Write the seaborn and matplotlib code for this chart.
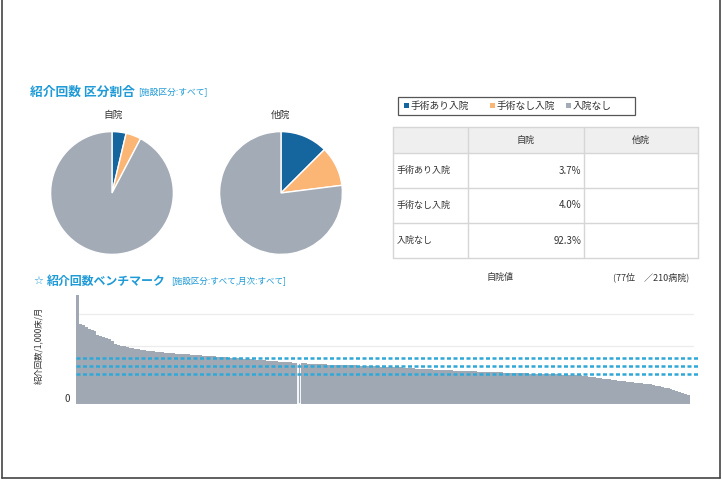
import matplotlib
matplotlib.use("Agg")
import matplotlib.pyplot as plt
from matplotlib.patches import Rectangle
from matplotlib.lines import Line2D
import seaborn as sns
import pandas as pd

sns.set_theme(style="white")
plt.rcParams['font.family'] = ['Noto Sans CJK JP', 'DejaVu Sans']

# ---------------- data ----------------
categories = ["手術あり入院", "手術なし入院", "入院なし"]
own_share = [3.7, 4.0, 92.3]
other_share = [12.5, 10.5, 77.0]
table_values = ["3.7%", "4.0%", "92.3%"]

bench_values = [
    109, 80, 79, 77, 75, 74, 73, 69, 68, 67, 66, 65, 63, 60, 59, 58, 58, 57, 56, 56,
    55, 55, 54, 54, 53, 53, 53, 52, 52, 52, 51,
    51, 51, 51, 50, 50, 50, 50, 50, 49, 49, 49,
    49, 48, 48, 48, 48, 48, 47, 47, 47, 47,
    46, 46, 46, 46, 46, 45, 45, 45, 45, 44, 44, 44,
    44, 43, 43, 43, 43, 42, 42, 42, 42, 42, 41, 41, 41,
    41, 41, 40, 40, 40, 40, 40, 40, 40, 39, 39, 39, 39, 39, 39, 39, 39, 39,
    39, 38, 38, 38, 38, 38, 38, 38, 38, 37, 37, 37, 37, 37, 37, 37, 37,
    36, 36, 36, 36, 35, 35, 35, 35, 35, 35, 34, 34, 34, 34, 34, 34, 34,
    33, 33, 33, 33, 33, 33, 33, 33, 32, 32, 32, 32, 32, 32, 32, 32, 32,
    31, 31, 31, 31, 31, 31, 31, 31, 31, 30, 30, 30, 30, 30, 30, 30, 30, 30, 30, 30,
    29, 29, 29, 29, 29, 29, 29,
    28, 28, 27, 27, 27, 26, 26, 25, 25, 25, 24,
    24, 23, 23, 23, 22, 22, 22, 21, 21, 21, 20, 20, 20, 19,
    18, 18, 17, 16, 16, 15, 14, 13,
    12, 11, 10, 9,
]
own_rank = 77
n_hosp = 210
mean_lines = [46, 38, 30]
grid_lines = [58, 90]

# ---------------- style ----------------
W, H = 722, 480
C_BLUE = "#15659f"
C_ORANGE = "#fbb574"
C_GRAY = "#a3abb7"
C_AREA = "#a0a8b4"
C_TITLE = "#1e9ad6"
C_DOT = "#2fa8d8"
TXT = "#333333"

fig = plt.figure(figsize=(W / 100, H / 100), dpi=100)
fig.patch.set_facecolor("white")


def px_axes(x0, y0, x1, y1, **kw):
    return fig.add_axes([x0 / W, 1 - y1 / H, (x1 - x0) / W, (y1 - y0) / H], **kw)


# background axes in pixel coordinates
bg = fig.add_axes([0, 0, 1, 1], zorder=0)
bg.set_xlim(0, W)
bg.set_ylim(H, 0)
bg.axis("off")

# frame lines
for xs, ys in [((1.5, 1.5), (0, 478)), ((720, 720), (0, 478)), ((1.5, 720), (478, 478))]:
    bg.add_line(Line2D(xs, ys, color="#444444", lw=1.2))

# titles
bg.text(30, 92, "紹介回数 区分割合", color=C_TITLE, fontsize=9.2, fontweight="bold",
        va="center", ha="left")
bg.text(138, 93, "[施設区分:すべて]", color=C_TITLE, fontsize=6.3, va="center", ha="left")
bg.text(113, 115, "自院", color=TXT, fontsize=7, va="center", ha="center")
bg.text(281, 115, "他院", color=TXT, fontsize=7, va="center", ha="center")

bg.text(33, 281, "☆", color=C_TITLE, fontsize=8, va="center", ha="left", family=["DejaVu Sans"])
bg.text(47, 281, "紹介回数ベンチマーク", color=C_TITLE, fontsize=8.6, fontweight="bold",
        va="center", ha="left")
bg.text(171, 282, "[施設区分:すべて,月次:すべて]", color=C_TITLE, fontsize=6.1,
        va="center", ha="left")
bg.text(500, 277, "自院値", color=TXT, fontsize=6.5, va="center", ha="center")
bg.text(613, 277, f"({own_rank}位　／{n_hosp}病院)", color=TXT, fontsize=6.5,
        va="center", ha="left")
bg.text(40, 345, "紹介回数/1,000床/月", color=TXT, fontsize=6, va="center", ha="center",
        rotation=90)
bg.text(67, 399, "0", color=TXT, fontsize=7, va="center", ha="center")

# legend box
bg.add_patch(Rectangle((398, 97), 237, 18, fill=False, edgecolor="#555555", lw=0.9))
leg_items = [(404, C_BLUE), (490, C_ORANGE), (566, C_GRAY)]
for (lx, col), lab in zip(leg_items, categories):
    bg.add_patch(Rectangle((lx, 103), 5, 5, facecolor=col, edgecolor="none"))
    bg.text(lx + 7, 106, lab, color=TXT, fontsize=7, va="center", ha="left")

# table
cols = [393, 468, 584, 698]
rows = [127, 153, 188, 223, 258]
bg.add_patch(Rectangle((cols[0], rows[0]), cols[-1] - cols[0], rows[1] - rows[0],
                       facecolor="#efefef", edgecolor="none"))
line_c = "#d6d6d6"
for y in rows:
    bg.add_line(Line2D((cols[0], cols[-1]), (y, y), color=line_c, lw=1))
for x in cols:
    bg.add_line(Line2D((x, x), (rows[0], rows[-1]), color=line_c, lw=1))
bg.text((cols[1] + cols[2]) / 2, 140, "自院", color=TXT, fontsize=6.5, va="center", ha="center")
bg.text((cols[2] + cols[3]) / 2, 140, "他院", color=TXT, fontsize=6.5, va="center", ha="center")
for i, (lab, val) in enumerate(zip(categories, table_values)):
    yc = (rows[i + 1] + rows[i + 2]) / 2
    bg.text(cols[0] + 4, yc, lab, color=TXT, fontsize=6.5, va="center", ha="left")
    bg.text(cols[2] - 3, yc, val, color=TXT, fontsize=7, va="center", ha="right")

# pies
for cx, shares in [(112, own_share), (281, other_share)]:
    ax = px_axes(cx - 62, 131, cx + 62, 255, zorder=2)
    ax.pie(shares, colors=[C_BLUE, C_ORANGE, C_GRAY], startangle=90, counterclock=False,
           wedgeprops=dict(edgecolor="white", linewidth=1.0))
    ax.set_xlim(-1.01, 1.01)
    ax.set_ylim(-1.01, 1.01)
    ax.set_aspect("equal")
    ax.axis("off")

# benchmark bars
df = pd.DataFrame({"rank": list(range(n_hosp)), "value": bench_values})
bar_w = (690 - 76) / n_hosp
x_end = 700
axb = px_axes(76, 290, x_end, 404, zorder=2)
axb.patch.set_alpha(0)
sns.barplot(data=df, x="rank", y="value", color=C_AREA, width=1.0, saturation=1,
            edgecolor="none", linewidth=0, ax=axb)
xmax_data = -0.5 + (x_end - 76) / bar_w
axb.set_xlim(-0.5, xmax_data)
axb.set_ylim(0, 114)
frac = (693 - 76) / (x_end - 76)
for g in grid_lines:
    axb.axhline(g, xmin=0, xmax=frac, color="#ececec", lw=0.9, zorder=0)
own_patch = axb.patches[own_rank - 1]
own_patch.set_edgecolor("white")
own_patch.set_linewidth(1.3)
for m in mean_lines:
    axb.axhline(m, color=C_DOT, lw=1.8, linestyle=(0, (1.6, 1.0)), zorder=5)
axb.axhline(0, xmin=0, xmax=frac, color="#dddddd", lw=0.8)
axb.set_xlabel("")
axb.set_ylabel("")
axb.set_xticks([])
axb.set_yticks([])
for s in axb.spines.values():
    s.set_visible(False)

fig.savefig("out.png", dpi=100, facecolor="white")
